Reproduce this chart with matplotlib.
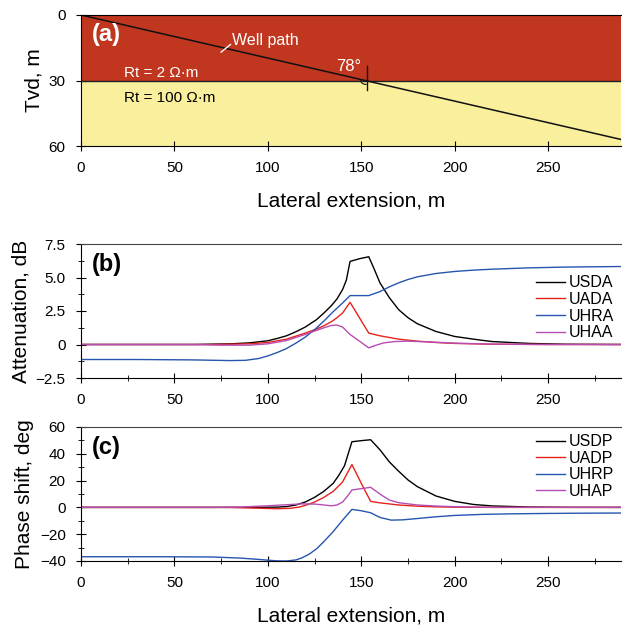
import numpy as np
import matplotlib
matplotlib.use("Agg")
import matplotlib.pyplot as plt
from matplotlib.ticker import MultipleLocator
from matplotlib.patches import Arc

plt.rcParams['font.family'] = ['Liberation Sans', 'DejaVu Sans']

# ---------------- data ----------------
x_limit = 289
layer_boundary = 30
depth_max = 60
well_x = [0, 290]
well_tvd = [0, 57.2]

# Attenuation (dB)
usda_x = [0, 60, 80, 90, 100, 105, 110, 115, 120, 126, 130, 134, 137, 140, 142, 144, 149, 154, 157, 160, 165, 170, 175, 180, 190, 200, 211, 220, 240, 260, 289]
usda_y = [0, 0, 0.05, 0.12, 0.28, 0.45, 0.65, 0.95, 1.3, 1.85, 2.35, 2.9, 3.4, 4.1, 4.8, 6.2, 6.4, 6.55, 5.6, 4.6, 3.5, 2.6, 2.0, 1.55, 0.97, 0.6, 0.38, 0.22, 0.08, 0.02, 0]
uada_x = [0, 70, 90, 100, 110, 120, 126, 130, 134, 137, 140, 144, 149, 154, 160, 170, 180, 190, 200, 220, 250, 289]
uada_y = [0, 0, 0.05, 0.15, 0.4, 0.85, 1.15, 1.4, 1.7, 2.0, 2.35, 3.15, 2.0, 0.85, 0.65, 0.4, 0.25, 0.15, 0.08, 0.02, 0, 0]
uhra_x = [0, 30, 60, 80, 88, 95, 100, 105, 110, 115, 120, 125, 130, 135, 140, 144, 149, 154, 160, 165, 170, 175, 180, 190, 200, 210, 220, 240, 260, 289]
uhra_y = [-1.12, -1.12, -1.15, -1.2, -1.18, -1.05, -0.85, -0.6, -0.3, 0.1, 0.55, 1.1, 1.75, 2.45, 3.1, 3.65, 3.65, 3.65, 3.95, 4.3, 4.6, 4.85, 5.05, 5.3, 5.45, 5.55, 5.62, 5.72, 5.78, 5.82]
uhaa_x = [0, 60, 75, 90, 100, 110, 120, 126, 130, 134, 137, 140, 144, 149, 154, 158, 162, 168, 175, 185, 200, 220, 250, 289]
uhaa_y = [0, 0, -0.05, -0.05, 0.05, 0.3, 0.75, 1.05, 1.25, 1.42, 1.45, 1.3, 0.75, 0.25, -0.25, -0.05, 0.12, 0.22, 0.25, 0.2, 0.1, 0.03, 0, 0]

# Phase shift (deg)
usdp_x = [0, 90, 105, 110, 115, 120, 125, 130, 135, 138, 141, 145, 150, 155, 160, 165, 170, 175, 180, 190, 200, 210, 220, 240, 260, 289]
usdp_y = [0, 0, 0.2, 0.6, 1.8, 4.0, 7.5, 12, 18, 24, 31, 49, 49.8, 50.5, 43, 34, 27, 20.5, 15.5, 8.5, 4.5, 2.2, 1.1, 0.3, 0.05, 0]
uadp_x = [0, 80, 95, 105, 112, 117, 120, 125, 130, 135, 140, 145, 150, 155, 160, 170, 180, 190, 200, 220, 289]
uadp_y = [0, 0, -0.6, -1.0, -0.7, 0.3, 1.5, 4.0, 7.5, 12, 19, 32, 18, 4.5, 3.4, 1.8, 0.9, 0.4, 0.2, 0, 0]
uhrp_x = [0, 40, 70, 85, 95, 100, 105, 110, 115, 118, 122, 126, 130, 135, 140, 145, 150, 155, 160, 166, 172, 180, 190, 200, 215, 230, 250, 270, 289]
uhrp_y = [-36.8, -36.8, -37, -37.8, -38.8, -39.4, -39.9, -40, -39.2, -37.8, -35, -31, -25.5, -18, -9.5, -1.5, -2.5, -4.0, -7.5, -9.5, -9.3, -8.3, -7.0, -6.0, -5.2, -4.8, -4.5, -4.3, -4.2]
uhap_x = [0, 70, 85, 100, 110, 118, 125, 130, 134, 137, 140, 143, 145, 150, 155, 158, 161, 165, 170, 180, 190, 200, 220, 289]
uhap_y = [0, 0, 0.3, 1.2, 2.0, 2.6, 2.5, 1.8, 1.2, 1.8, 4.0, 9.0, 13, 14, 15, 12, 9, 5.5, 3.5, 1.8, 1.0, 0.5, 0.05, 0]

x_ticks = [0, 50, 100, 150, 200, 250]
att_ticks = [-2.5, 0, 2.5, 5.0, 7.5]
att_labels = ['\u22122.5', '0', '2.5', '5.0', '7.5']
ph_ticks = [-40, -20, 0, 20, 40, 60]
ph_labels = ['\u221240', '\u221220', '0', '20', '40', '60']
tvd_ticks = [0, 30, 60]

# ---------------- figure ----------------
W, H = 622, 626
fig = plt.figure(figsize=(W / 100, H / 100), dpi=100)

def box(l, t, r, b):
    return [l / W, 1 - b / H, (r - l) / W, (b - t) / H]

ax_a = fig.add_axes(box(81, 15, 621, 146))
ax_b = fig.add_axes(box(81, 244, 621, 378))
ax_c = fig.add_axes(box(81, 427, 621, 561))

red_layer = '#C0361F'
yellow_layer = '#F9EF9C'
c_black = '#000000'
c_red = '#E5231B'
c_blue = '#2656AE'
c_purple = '#B54DB3'

tick_fs = 11
label_fs = 15

# Panel (a)
ax_a.axhspan(0, layer_boundary, color=red_layer, lw=0)
ax_a.axhspan(layer_boundary, depth_max, color=yellow_layer, lw=0)
ax_a.axhline(layer_boundary, color='#222222', lw=1.0)
ax_a.plot(well_x, well_tvd, color='#111111', lw=1.1)
ax_a.set_xlim(0, x_limit)
ax_a.set_ylim(depth_max, 0)
ax_a.set_yticks(tvd_ticks)
ax_a.set_xticks(x_ticks)
ax_a.plot([152.8, 152.8], [23.5, 34.3], color='#111111', lw=1.0)
ax_a.add_patch(Arc((152.8, 30.2), 6, 3.2, theta1=90, theta2=190, color='#111111', lw=0.8))
ax_a.text(150, 27, '78\u00b0', color='white', fontsize=12, ha='right', va='bottom')
ax_a.plot([75, 80], [17, 13.5], color='white', lw=1.0)
ax_a.text(81, 11.5, 'Well path', color='white', fontsize=11.5, ha='left', va='center')
ax_a.text(23, 26.5, 'Rt = 2 \u03a9\u00b7m', color='white', fontsize=11, ha='left', va='center')
ax_a.text(23, 38, 'Rt = 100 \u03a9\u00b7m', color='black', fontsize=11, ha='left', va='center')
ax_a.text(6, 9.0, '(a)', color='white', fontsize=17, fontweight='bold', ha='left', va='center')
ax_a.set_ylabel('Tvd, m', fontsize=label_fs)
ax_a.set_xlabel('Lateral extension, m', fontsize=label_fs, labelpad=12)

# Panel (b)
ax_b.plot(usda_x, usda_y, color=c_black, lw=1.0, label='USDA')
ax_b.plot(uada_x, uada_y, color=c_red, lw=1.0, label='UADA')
ax_b.plot(uhra_x, uhra_y, color=c_blue, lw=1.0, label='UHRA')
ax_b.plot(uhaa_x, uhaa_y, color=c_purple, lw=1.0, label='UHAA')
ax_b.set_xlim(0, x_limit)
ax_b.set_ylim(-2.5, 7.5)
ax_b.set_yticks(att_ticks)
ax_b.set_yticklabels(att_labels)
ax_b.set_xticks(x_ticks)
ax_b.xaxis.set_minor_locator(MultipleLocator(25))
ax_b.yaxis.set_minor_locator(MultipleLocator(1.25))
ax_b.text(6, 6.0, '(b)', fontsize=17, fontweight='bold', ha='left', va='center')
ax_b.set_ylabel('Attenuation, dB', fontsize=label_fs)
ax_b.legend(loc='upper right', bbox_to_anchor=(1.0, 0.82), frameon=False, fontsize=11.5,
            handlelength=1.8, handletextpad=0.25, labelspacing=0.1, borderaxespad=0.05)

# Panel (c)
ax_c.plot(usdp_x, usdp_y, color=c_black, lw=1.0, label='USDP')
ax_c.plot(uadp_x, uadp_y, color=c_red, lw=1.0, label='UADP')
ax_c.plot(uhrp_x, uhrp_y, color=c_blue, lw=1.0, label='UHRP')
ax_c.plot(uhap_x, uhap_y, color=c_purple, lw=1.0, label='UHAP')
ax_c.set_xlim(0, x_limit)
ax_c.set_ylim(-40, 60)
ax_c.set_yticks(ph_ticks)
ax_c.set_yticklabels(ph_labels)
ax_c.set_xticks(x_ticks)
ax_c.xaxis.set_minor_locator(MultipleLocator(25))
ax_c.yaxis.set_minor_locator(MultipleLocator(10))
ax_c.text(6, 45, '(c)', fontsize=17, fontweight='bold', ha='left', va='center')
ax_c.set_ylabel('Phase shift, deg', fontsize=label_fs)
ax_c.set_xlabel('Lateral extension, m', fontsize=label_fs, labelpad=12)
ax_c.legend(loc='upper right', bbox_to_anchor=(1.0, 1.0), frameon=False, fontsize=11.5,
            handlelength=1.8, handletextpad=0.25, labelspacing=0.1, borderaxespad=0.05)

for ax in (ax_a, ax_b, ax_c):
    ax.tick_params(which='major', direction='inout', length=7, width=0.8, labelsize=tick_fs, pad=7.5)
    ax.tick_params(which='minor', direction='inout', length=4, width=0.6)
    ax.spines['right'].set_visible(False)
    for s in ('left', 'bottom', 'top'):
        ax.spines[s].set_linewidth(0.8)
ax_b.spines['top'].set_color('#444444')
ax_c.spines['top'].set_color('#444444')

fig.savefig('out.png', dpi=100)
